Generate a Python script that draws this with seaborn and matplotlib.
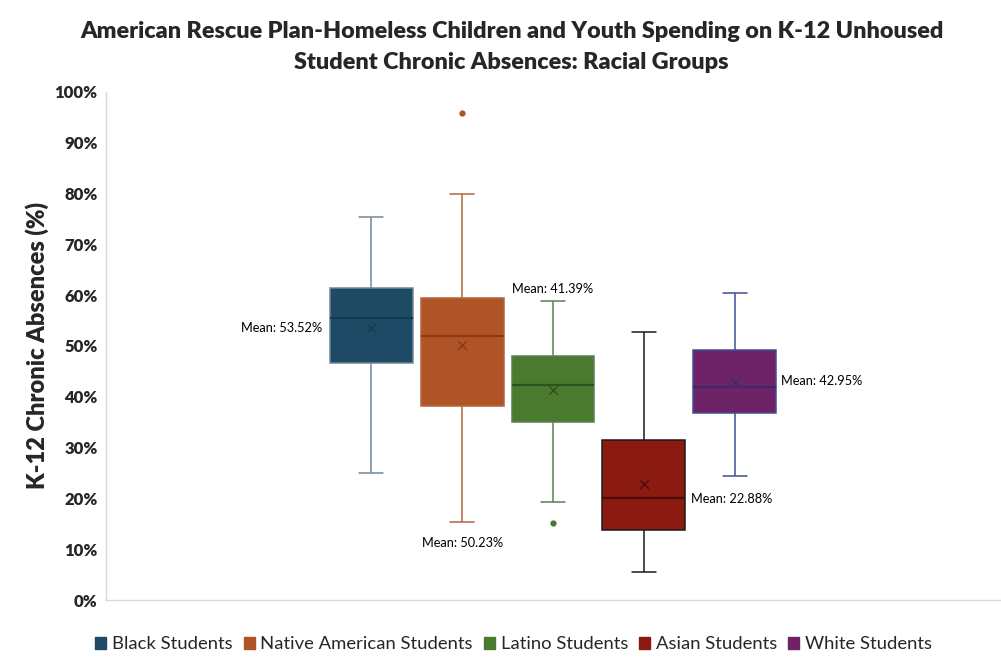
import numpy as np
import pandas as pd
import matplotlib
matplotlib.use("Agg")
import matplotlib.pyplot as plt
import seaborn as sns
from matplotlib.patches import Patch

# Racial groups and their chronic-absence distributions (percent)
groups = ["Black Students", "Native American Students", "Latino Students",
          "Asian Students", "White Students"]
whisker_low = [25.1, 15.3, 19.2, 5.5, 24.5]
q1 = [46.7, 38.2, 35.0, 13.8, 36.8]
median = [55.6, 52.0, 42.3, 20.1, 41.9]
q3 = [61.5, 59.4, 48.0, 31.4, 49.2]
whisker_high = [75.3, 80.0, 58.8, 52.8, 60.4]
outliers = [[], [95.9], [15.2], [], []]
means = [53.52, 50.23, 41.39, 22.88, 42.95]

y_ticks = [0, 10, 20, 30, 40, 50, 60, 70, 80, 90, 100]

# Styling
fill_colors = ["#1F4A66", "#B05428", "#4A7A2D", "#8B1A10", "#6E2366"]
line_colors = ["#71879A", "#B2653F", "#5F7F57", "#1A1A1A", "#3F4F96"]
median_colors = ["#163A50", "#8A3A18", "#2E521D", "#4A0E0A", "#3B2B6E"]
label_side = ["left", "below", "above", "right", "right"]
label_y = [53.52, 11.2, 61.2, 19.9, 43.1]


def sample_from_summary(lo, a, m, b, hi, out):
    """Nine ordered values whose linear quartiles equal (a, m, b)."""
    lows, highs = [lo, lo], [hi, hi]
    for v in out:
        if v > hi:
            highs = [hi, v]
        else:
            lows = [v, lo]
    return lows + [a, m, m, m, b] + highs


records = []
for g, lo, a, m, b, hi, out in zip(groups, whisker_low, q1, median, q3,
                                   whisker_high, outliers):
    for v in sample_from_summary(lo, a, m, b, hi, out):
        records.append({"cat": "", "group": g, "value": v})
df = pd.DataFrame(records)

sns.set_theme(style="white")
plt.rcParams["font.family"] = ["Lato", "DejaVu Sans"]

fig = plt.figure(figsize=(10.01, 6.65), dpi=100)
ax = fig.add_axes([0.1059, 0.0977, 0.8931, 0.764])

sns.boxplot(data=df, x="cat", y="value", hue="group", hue_order=groups,
            palette=fill_colors, saturation=1, width=0.508, gap=0.087,
            whis=1.5, linewidth=1.1, fliersize=3.5, legend=False,
            flierprops={"marker": "o"}, ax=ax)

cap_half = 0.0135
centers = []
for i, cont in enumerate(ax.containers):
    lc, mc, fc = line_colors[i], median_colors[i], fill_colors[i]
    for box in cont.boxes:
        box.set_facecolor(fc)
        box.set_edgecolor(lc)
        verts = box.get_path().vertices
        centers.append((verts[:, 0].min() + verts[:, 0].max()) / 2)
        half_w = (verts[:, 0].max() - verts[:, 0].min()) / 2
    for line in cont.whiskers:
        line.set_color(lc)
    for cap in cont.caps:
        cap.set_color(lc)
        c = np.mean(cap.get_xdata())
        cap.set_xdata([c - cap_half, c + cap_half])
    for med in cont.medians:
        med.set_color(mc)
        med.set_linewidth(1.6)
    for fl in cont.fliers:
        fl.set_markerfacecolor(fc)
        fl.set_markeredgecolor(fc)

# Mean markers and labels
for i, (cx, mval) in enumerate(zip(centers, means)):
    ax.scatter([cx], [mval], marker="x", s=40, color=median_colors[i],
               linewidths=1.0, zorder=5)
    text = f"Mean: {mval:.2f}%"
    side = label_side[i]
    if side == "left":
        ax.text(cx - half_w - 0.009, label_y[i], text, ha="right",
                va="center", fontsize=9.2, color="black")
    elif side == "right":
        ax.text(cx + half_w + 0.006, label_y[i], text, ha="left",
                va="center", fontsize=9.2, color="black")
    else:
        ax.text(cx, label_y[i], text, ha="center", va="center",
                fontsize=9.2, color="black")

ax.set_xlim(-0.5, 0.5)
ax.set_ylim(0, 100)
ax.set_yticks(y_ticks)
ax.set_yticklabels([f"{t}%" for t in y_ticks], fontweight="heavy", fontsize=12)
ax.set_xticks([])
ax.set_xlabel("")
ax.set_ylabel("K-12 Chronic Absences (%)", fontsize=17, fontweight="heavy",
              labelpad=4)
ax.tick_params(axis="y", length=0, pad=6)
for s in ["top", "right"]:
    ax.spines[s].set_visible(False)
for s in ["left", "bottom"]:
    ax.spines[s].set_color("#D9D9D9")
    ax.spines[s].set_linewidth(1.0)

fig.suptitle("American Rescue Plan-Homeless Children and Youth Spending on K-12 Unhoused\n"
             "Student Chronic Absences: Racial Groups",
             x=0.511, y=0.968, fontsize=16.8, fontweight="heavy", linespacing=1.6)

handles = [Patch(facecolor=fc, edgecolor=fc) for fc in fill_colors]
fig.legend(handles, groups, loc="center", bbox_to_anchor=(0.513, 0.031),
           ncol=5, frameon=False, fontsize=13.3, handlelength=0.6,
           handleheight=0.6, handletextpad=0.3, columnspacing=0.6)

fig.savefig("out.png", dpi=100)
